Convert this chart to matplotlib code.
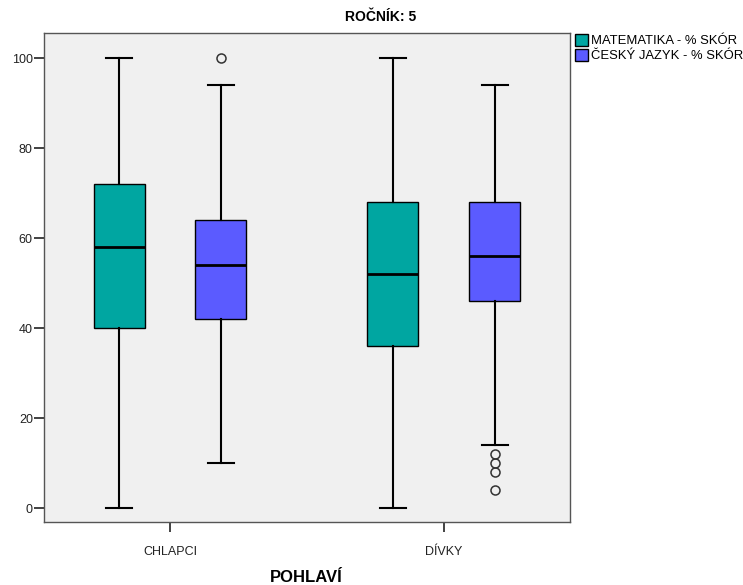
import matplotlib
matplotlib.use("Agg")
import matplotlib.pyplot as plt
from matplotlib.patches import Patch

plt.rcParams['font.family'] = ['Liberation Sans', 'DejaVu Sans']

# categories and series
groups = ['CHLAPCI', 'DÍVKY']
series = ['MATEMATIKA - % SKÓR', 'ČESKÝ JAZYK - % SKÓR']
colors = ['#00A6A1', '#5B5BFF']

# box statistics: [whislo, q1, med, q3, whishi]
math_stats = [[0, 40, 58, 72, 100], [0, 36, 52, 68, 100]]
czech_stats = [[10, 42, 54, 64, 94], [14, 46, 56, 68, 94]]
math_fliers = [[], []]
czech_fliers = [[100], [12, 10, 8, 4]]

fig = plt.figure(figsize=(7.43, 5.85), dpi=100)
ax = fig.add_axes([0.0592, 0.1077, 0.7078, 0.8367])
ax.set_facecolor('#F0F0F0')

offset = 0.186
width = 0.186
for s, (stats_list, fliers_list) in enumerate([(math_stats, math_fliers), (czech_stats, czech_fliers)]):
    bxp_stats = []
    for st, fl in zip(stats_list, fliers_list):
        bxp_stats.append(dict(whislo=st[0], q1=st[1], med=st[2], q3=st[3], whishi=st[4], fliers=fl))
    pos = [i - offset if s == 0 else i + offset for i in range(len(groups))]
    ax.bxp(bxp_stats, positions=pos, widths=width, patch_artist=True,
           boxprops=dict(facecolor=colors[s], edgecolor='black', linewidth=1),
           medianprops=dict(color='black', linewidth=2),
           whiskerprops=dict(color='black', linewidth=1.5),
           capprops=dict(color='black', linewidth=1.5),
           capwidths=width * 0.5,
           flierprops=dict(marker='o', markerfacecolor='none', markeredgecolor='#333333',
                           markersize=6.5, markeredgewidth=1.1),
           manage_ticks=False)

ax.set_xlim(-0.46, 1.46)
ax.set_ylim(-3.1, 105.7)
ax.set_xticks(range(len(groups)))
ax.set_xticklabels(groups, fontsize=9)
ax.set_yticks([0, 20, 40, 60, 80, 100])
ax.tick_params(axis='both', direction='out', length=7, width=1.2, labelsize=9, colors='#222222')
ax.tick_params(axis='x', pad=10)
ax.tick_params(axis='y', pad=1)
for sp in ax.spines.values():
    sp.set_color('#555555')
    sp.set_linewidth(1)

fig.text(381 / 743, 1 - 17 / 585, 'ROČNÍK: 5', ha='center', va='center', fontsize=10, fontweight='bold')
fig.text(306 / 743, 1 - 577 / 585, 'POHLAVÍ', ha='center', va='center', fontsize=12, fontweight='bold')

handles = [Patch(facecolor=c, edgecolor='black', linewidth=1) for c in colors]
fig.legend(handles, series, loc='upper left', bbox_to_anchor=(575 / 743, 1 - 34 / 585),
           frameon=False, fontsize=9.4, handlelength=1.0, handleheight=1.0,
           handletextpad=0.2, labelspacing=0.12, borderpad=0, borderaxespad=0)

fig.savefig('out.png', dpi=100)
